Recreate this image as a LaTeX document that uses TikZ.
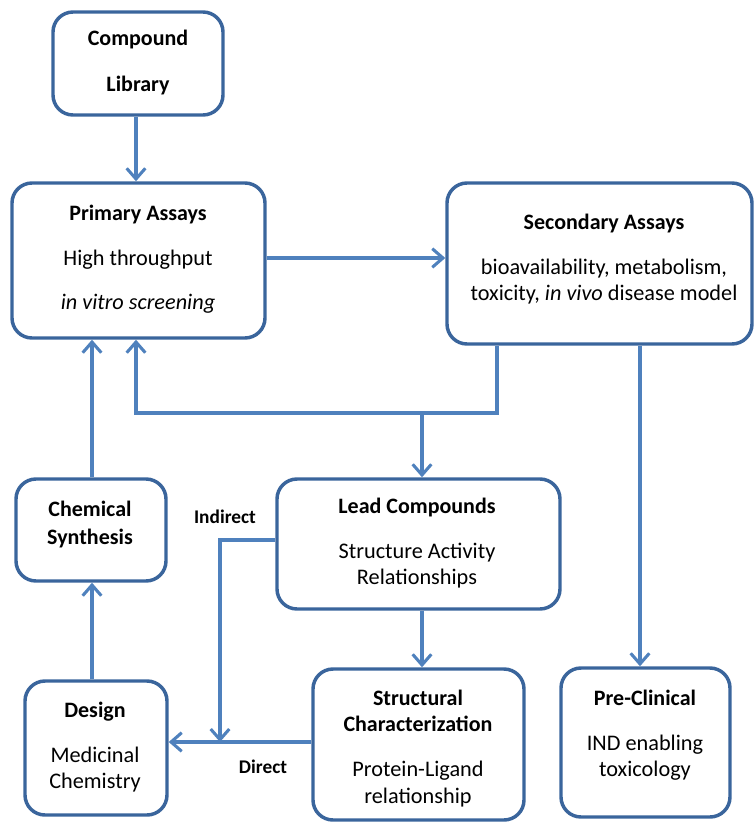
\documentclass[tikz,border=0pt]{standalone}
\usepackage{fontspec}
\setmainfont{Carlito}
\usetikzlibrary{arrows.meta}
\definecolor{boxblue}{HTML}{3A659C}
\definecolor{arrblue}{HTML}{4F81BD}
\begin{document}
\begin{tikzpicture}[x=0.75pt,y=-0.75pt,
  box/.style={draw=boxblue,line width=2.6pt,rounded corners=15pt,fill=white,inner sep=0pt},
  txt/.style={anchor=mid,inner sep=0pt,font=\fontsize{16.7}{19}\selectfont},
  ttl/.style={txt,font=\fontsize{16.5}{19}\selectfont\bfseries},
  lbl/.style={anchor=mid,inner sep=0pt,font=\fontsize{14.5}{17}\selectfont\bfseries},
  conn/.style={draw=arrblue,line width=2.3pt},
  arr/.style={conn,-{Straight Barb[length=8pt,width=14pt,line width=2.3pt]}}
]
\useasboundingbox (0,0) rectangle (754,822);
% boxes
\node[box,minimum width=127.5pt,minimum height=77.25pt] (lib) at (138,63.5) {};
\node[box,minimum width=189.75pt,minimum height=116.25pt] (prim) at (138.5,260.5) {};
\node[box,minimum width=228.75pt,minimum height=120.75pt] (sec) at (599.5,263.5) {};
\node[box,minimum width=112.5pt,minimum height=76.5pt] (chem) at (91,530) {};
\node[box,minimum width=212.25pt,minimum height=97.5pt] (lead) at (418.5,544) {};
\node[box,minimum width=106.5pt,minimum height=100.5pt] (des) at (96,748) {};
\node[box,minimum width=158.25pt,minimum height=113.25pt] (str) at (418.5,744.5) {};
\node[box,minimum width=126.75pt,minimum height=111.75pt] (pre) at (645.5,742.5) {};
% texts
\begin{scope}[yshift=-3pt]
\node[ttl] (libA) at (138,38) {Compound};
\node[ttl] (libB) at (138,84) {Library};
\node[ttl] (primA) at (138,213) {Primary Assays};
\node[txt] (primB) at (138,258) {High throughput};
\node[txt] (primC) at (138,302) {\itshape in vitro screening};
\node[ttl] (secA) at (604,222) {Secondary Assays};
\node[txt] (secB) at (604,267) {bioavailability, metabolism,};
\node[txt] (secC) at (604,293) {toxicity, \textit{in vivo} disease model};
\node[ttl] (chemA) at (90,509) {Chemical};
\node[ttl] (chemB) at (90,537) {Synthesis};
\node[ttl] (desA) at (95,710) {Design};
\node[txt] (desB) at (95,755) {Medicinal};
\node[txt] (desC) at (95,781) {Chemistry};
\node[ttl] (leadA) at (417,506) {Lead Compounds};
\node[txt] (leadB) at (417,551) {Structure Activity};
\node[txt] (leadC) at (417,577) {Relationships};
\node[ttl] (strA) at (418,698) {Structural};
\node[ttl] (strB) at (418,724) {Characterization};
\node[txt] (strC) at (418,769) {Protein-Ligand};
\node[txt] (strD) at (418,796) {relationship};
\node[ttl] (preA) at (645,698) {Pre-Clinical};
\node[txt] (preB) at (645,743) {IND enabling};
\node[txt] (preC) at (645,769) {toxicology};
\node[lbl] (ind) at (225,516) {Indirect};
\node[lbl] (dir) at (263,766) {Direct};
\end{scope}
% connector coordinates
\coordinate (j1) at (497,413);
\coordinate (j2) at (136,413);
\coordinate (j3) at (422,413);
\coordinate (k1) at (220,540);
\coordinate (k2) at (220,742);
% connectors
\draw[arr] (lib.south -| 136,0) -- (prim.north -| 136,0);
\draw[arr] (prim.east |- 0,258) -- (sec.west |- 0,258);
\draw[arr] (sec.south -| j1) -- (j1) -- (j2) -- (prim.south -| j2);
\draw[arr] (j3) -- (lead.north -| j3);
\draw[arr] (chem.north -| 92,0) -- (prim.south -| 92,0);
\draw[arr] (des.north -| 92,0) -- (chem.south -| 92,0);
\draw[arr] (sec.south -| 640,0) -- (pre.north -| 640,0);
\draw[arr] (lead.south -| 422,0) -- (str.north -| 422,0);
\draw[arr] (lead.west |- k1) -- (k1) -- (k2);
\draw[arr] (str.west |- k2) -- (des.east |- k2);
\end{tikzpicture}
\end{document}
